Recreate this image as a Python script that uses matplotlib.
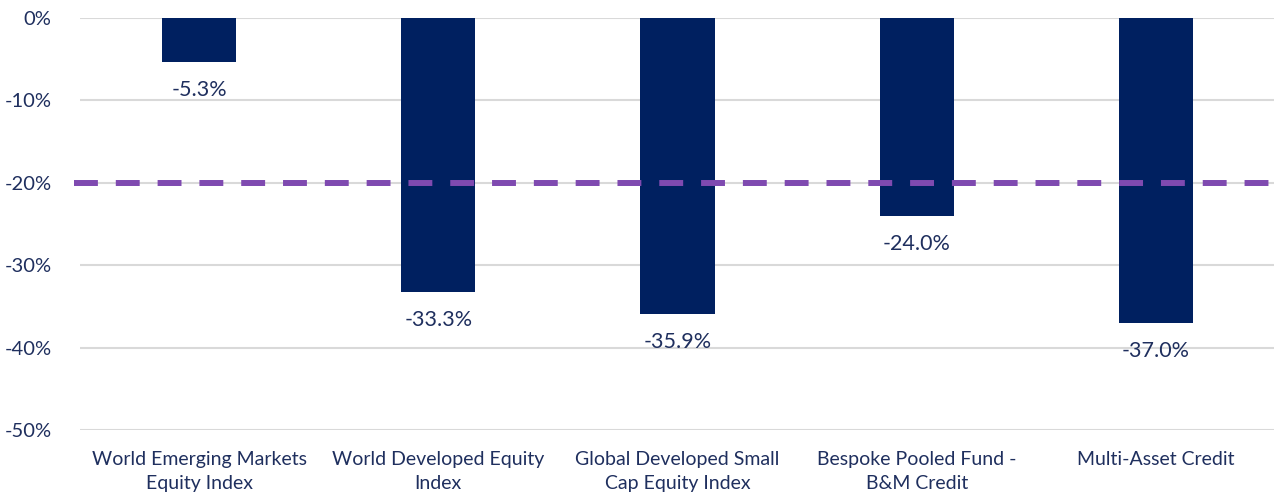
import matplotlib.pyplot as plt
import matplotlib.transforms as mtransforms
import numpy as np

categories = ["World Emerging Markets\nEquity Index", "World Developed Equity\nIndex",
              "Global Developed Small\nCap Equity Index", "Bespoke Pooled Fund -\nB&M Credit",
              "Multi-Asset Credit"]
values = [-5.3, -33.3, -35.9, -24.0, -37.0]
threshold = -20
yticks = [0, -10, -20, -30, -40, -50]

navy = "#002060"
text_col = "#1F2F5E"

plt.rcParams['font.family'] = ['Lato', 'DejaVu Sans']

fig = plt.figure(figsize=(12.74, 5), dpi=100)
ax = fig.add_axes([79.5 / 1274, 70 / 500, (1275.5 - 79.5) / 1274, (430 - 18) / 500])

x = np.arange(len(categories))
ax.bar(x, values, width=0.31, color=navy, zorder=3)

# -20% threshold line, starts a little left of the plot area like the original
trans = mtransforms.blended_transform_factory(ax.transAxes, ax.transData)
ax.plot([-0.0046, 1.0], [threshold, threshold], transform=trans, clip_on=False,
        color="#7F4AB0", lw=4.3, dashes=(4, 3), solid_capstyle="butt", zorder=4)

for xi, v in zip(x, values):
    ax.annotate(f"{v:.1f}%", (xi, v), xytext=(0, -13), textcoords="offset points",
                ha="center", va="top", fontsize=15.5, color=text_col)

ax.set_xlim(-0.5, len(categories) - 0.5)
ax.set_ylim(-50, 0)
ax.set_yticks(yticks)
ax.set_yticklabels([f"{t}%" for t in yticks], fontsize=14.5, color=text_col)
ax.set_xticks(x)
ax.set_xticklabels(categories, fontsize=14, color=text_col, linespacing=1.5)
ax.tick_params(length=0)
ax.tick_params(axis="y", pad=20)
ax.tick_params(axis="x", pad=15)
ax.grid(axis="y", color="#D9D9D9", lw=1.5, zorder=0)
for s in ax.spines.values():
    s.set_visible(False)

fig.savefig("out.png", dpi=100)
